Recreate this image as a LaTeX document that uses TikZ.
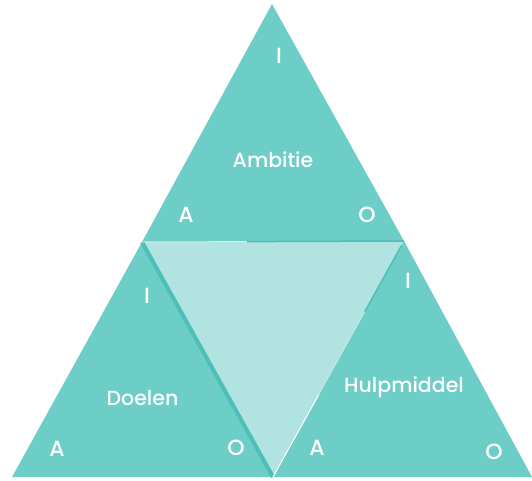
\documentclass[tikz,border=0pt]{standalone}
\usepackage{fontspec}
\setmainfont{Poppins}[BoldFont={Poppins Medium}]
\usetikzlibrary{calc}
\definecolor{teal1}{HTML}{6DCDC7}
\definecolor{teallight}{HTML}{B1E3E0}
\definecolor{tealdark}{HTML}{4BBFB8}
\begin{document}
\begin{tikzpicture}[x=1pt,y=-1pt,
  tri/.style={fill=teal1,draw=none},
  lbl/.style={text=white,font=\fontsize{22}{22}\selectfont\bfseries,inner sep=0pt},
  nametxt/.style={text=white,font=\fontsize{20.5}{20.5}\selectfont\bfseries,inner sep=0pt}]
\useasboundingbox (0,0) rectangle (532,480);
% corner coordinates
\coordinate (T) at (272,4);
\coordinate (L) at (142,242);
\coordinate (R) at (404,241);
\coordinate (BL) at (12,477);
\coordinate (BM) at (273,477);
\coordinate (BR) at (532,477);
% middle
\fill[teallight] (L) -- (R) -- (BM) -- cycle;
% triangles
\fill[tri] (T) -- (L) -- (R) -- cycle;
\fill[tri] (L) -- (BL) -- (BM) -- cycle;
\fill[tri] (R) -- (BM) -- (BR) -- cycle;
% edges
\draw[tealdark,line width=4pt] (L) -- (BM);
\draw[tealdark,line width=1.5pt] ($(R)!0.02!(BM)$) -- ($(R)!0.3!(BM)$);
\draw[white,opacity=0.4,line width=1pt] ($(R)!0.3!(BM)$) -- ($(R)!0.65!(BM)$);
\draw[white,line width=1pt] ($(R)!0.65!(BM)$) -- ($(R)!1!(BM)$);
\draw[white,opacity=0.6,line width=1pt] (L) -- ($(L)!0.4!(R)$);
\draw[tealdark,line width=1.5pt] ($(L)!0.4!(R)$) -- (R);
% names
\node[nametxt] (amb) at (273,160) {Ambitie};
\node[nametxt] (doe) at (142.5,398) {Doelen};
\node[nametxt] (hul) at (404,387) {Hulpmiddel};
% letters
\node[lbl] (tI) at (279,56) {I};
\node[lbl] (tA) at (186,215) {A};
\node[lbl] (tO) at (367,215) {O};
\node[lbl] (lI) at (147,296) {I};
\node[lbl] (lA) at (57,449) {A};
\node[lbl] (lO) at (236,448) {O};
\node[lbl] (rI) at (408,281) {I};
\node[lbl] (rA) at (317,448) {A};
\node[lbl] (rO) at (494,452) {O};
\end{tikzpicture}
\end{document}
